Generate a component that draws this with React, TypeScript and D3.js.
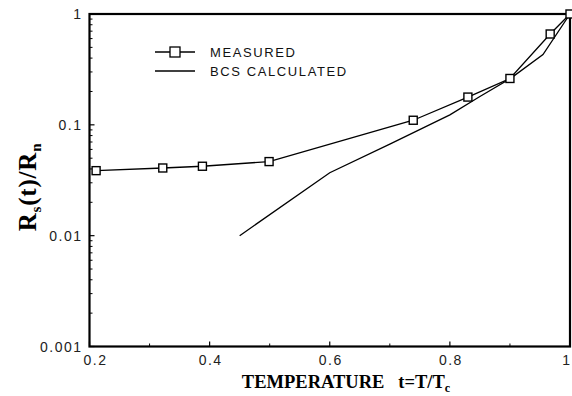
import React from "react";
import * as d3 from "d3";

const measuredT = [0.211, 0.322, 0.388, 0.499, 0.739, 0.83, 0.9, 0.967, 1.0];
const measuredR = [0.0386, 0.0408, 0.0423, 0.0466, 0.11, 0.178, 0.262, 0.66, 1.0];
const bcsT = [0.45, 0.6, 0.7, 0.8, 0.85, 0.9, 0.955, 1.0];
const bcsR = [0.01, 0.037, 0.067, 0.123, 0.18, 0.26, 0.43, 1.0];
const xTicks = [0.2, 0.4, 0.6, 0.8, 1];
const xTickLabels = ["0.2", "0.4", "0.6", "0.8", "1"];
const xMinorTicks = [0.3, 0.5, 0.7, 0.9];
const yTicks = [0.001, 0.01, 0.1, 1];
const yTickLabels = ["0.001", "0.01", "0.1", "1"];
const legendLabels = ["MEASURED", "BCS CALCULATED"];

const W = 572, H = 396;
const L = 89.5, R = 570, T = 14, B = 346.5;

export default function App() {
  const x = d3.scaleLinear().domain([0.2, 1]).range([L, R]);
  const y = d3.scaleLog().domain([0.001, 1]).range([B, T]);
  const line = d3.line<[number, number]>().x(d => x(d[0])).y(d => y(d[1]));
  const measured: [number, number][] = measuredT.map((t, i) => [t, measuredR[i]]);
  const bcs: [number, number][] = bcsT.map((t, i) => [t, bcsR[i]]);
  const yMinor: number[] = [];
  for (const dec of [0.001, 0.01, 0.1]) for (let k = 2; k <= 9; k++) yMinor.push(dec * k);
  const sans = "'Liberation Sans', Arial, sans-serif";
  const serif = "'Liberation Serif', 'Times New Roman', serif";
  return (
    <svg width={W} height={H} style={{ position: "absolute", left: 0, top: 0, background: "#fff" }}>
      <rect x={0} y={0} width={W} height={H} fill="#fff" />
      {yMinor.map((v, i) => (
        <line key={"ym" + i} x1={L} x2={L + 3} y1={y(v)} y2={y(v)} stroke="#000" strokeWidth={1} />
      ))}
      {yTicks.map((v, i) => (
        <line key={"yt" + i} x1={L} x2={L + 5} y1={y(v)} y2={y(v)} stroke="#000" strokeWidth={1.2} />
      ))}
      {xMinorTicks.map((v, i) => (
        <line key={"xm" + i} x1={x(v)} x2={x(v)} y1={B} y2={B - 3} stroke="#000" strokeWidth={1} />
      ))}
      {xTicks.map((v, i) => (
        <line key={"xt" + i} x1={x(v)} x2={x(v)} y1={B} y2={B - 5} stroke="#000" strokeWidth={1.2} />
      ))}
      <rect x={L} y={T} width={R - L} height={B - T} fill="none" stroke="#000" strokeWidth={2.2} />
      {xTicks.map((v, i) => (
        <text key={"xl" + i} x={i === 0 ? x(v) + 6 : i === xTicks.length - 1 ? x(v) - 3 : x(v) + 1} y={B + 18}
          fontFamily={sans} fontSize={14} letterSpacing={1.5} textAnchor="middle" fill="#222">
          {xTickLabels[i]}
        </text>
      ))}
      {yTicks.map((v, i) => (
        <text key={"yl" + i} x={L - 7} y={y(v) + 5} fontFamily={sans} fontSize={14} letterSpacing={1.5} textAnchor="end" fill="#222">
          {yTickLabels[i]}
        </text>
      ))}
      <path d={line(bcs) || ""} fill="none" stroke="#000" strokeWidth={1.3} />
      <path d={line(measured) || ""} fill="none" stroke="#000" strokeWidth={1.3} />
      {measured.map((d, i) => (
        <rect key={"m" + i} x={x(d[0]) - 4} y={y(d[1]) - 4} width={8} height={8} fill="#fff" stroke="#000" strokeWidth={1.4} />
      ))}
      <line x1={155} x2={195} y1={52} y2={52} stroke="#000" strokeWidth={1.3} />
      <rect x={170} y={47} width={10} height={10} fill="#fff" stroke="#000" strokeWidth={1.3} />
      <text x={210} y={57} fontFamily={sans} fontSize={13} letterSpacing={1.6} fill="#111">{legendLabels[0]}</text>
      <line x1={155} x2={195} y1={71} y2={71} stroke="#000" strokeWidth={1.3} />
      <text x={210} y={76} fontFamily={sans} fontSize={13} letterSpacing={1.6} fill="#111">{legendLabels[1]}</text>
      <text x={346} y={388} fontFamily={serif} fontSize={18.5} fontWeight="bold" textAnchor="middle" fill="#000">
        TEMPERATURE{"\u2002 "}t=T/T<tspan fontSize={12} dy={4}>c</tspan>
      </text>
      <text transform="translate(36,187) rotate(-90)" fontFamily={serif} fontSize={25} fontWeight="bold" letterSpacing={0.8} textAnchor="middle" fill="#000">
        R<tspan fontSize={15} dy={5}>s</tspan><tspan dy={-5}>(t)/R</tspan><tspan fontSize={15} dy={5}>n</tspan>
      </text>
    </svg>
  );
}
